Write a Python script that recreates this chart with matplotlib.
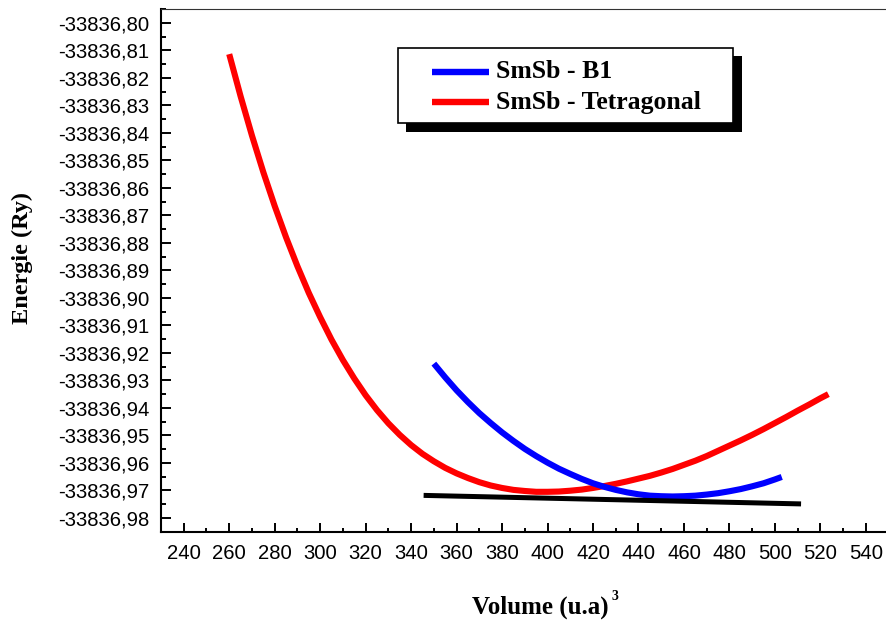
import matplotlib
matplotlib.use("Agg")
import matplotlib.pyplot as plt
from matplotlib.patches import Rectangle
from matplotlib.lines import Line2D
from matplotlib.ticker import MultipleLocator, FuncFormatter

E0 = -33836.0

# E(V) curves, energies in Ry (offset from E0), volumes in (u.a)^3
vol_tetra = [260, 265, 270, 275, 280, 285, 290, 295, 300, 305, 310, 315,
             320, 325, 330, 335, 340, 345, 350, 355, 360, 365, 370, 375,
             380, 385, 390, 395, 400, 405, 410, 415, 420, 425, 430, 435,
             440, 445, 450, 455, 460, 465, 470, 475, 480, 485, 490, 495,
             500, 505, 510, 515, 520, 523.5]
de_tetra = [-0.8114, -0.8267, -0.8410, -0.8543, -0.8666, -0.8780, -0.8885,
            -0.8982, -0.9070, -0.9152, -0.9226, -0.9293, -0.9354, -0.9408,
            -0.9456, -0.9498, -0.9535, -0.9567, -0.9594, -0.9618, -0.9638,
            -0.9655, -0.9670, -0.9682, -0.9691, -0.9698, -0.9702, -0.9705,
            -0.9705, -0.9704, -0.9701, -0.9697, -0.9691, -0.9684, -0.9676,
            -0.9667, -0.9657, -0.9647, -0.9635, -0.9622, -0.9607, -0.9592,
            -0.9575, -0.9556, -0.9537, -0.9518, -0.9498, -0.9477, -0.9455,
            -0.9433, -0.9410, -0.9388, -0.9365, -0.9350]

vol_b1 = [350, 355, 360, 365, 370, 375, 380, 385, 390, 395, 400, 405,
          410, 415, 420, 425, 430, 435, 440, 445, 450, 455, 460, 465,
          470, 475, 480, 485, 490, 495, 500, 503]
de_b1 = [-0.9239, -0.9289, -0.9336, -0.9379, -0.9419, -0.9455, -0.9489,
         -0.9520, -0.9549, -0.9575, -0.9599, -0.9621, -0.9640, -0.9658,
         -0.9674, -0.9687, -0.9698, -0.9707, -0.9714, -0.9719, -0.9721,
         -0.9722, -0.9721, -0.9719, -0.9715, -0.9710, -0.9703, -0.9695,
         -0.9685, -0.9674, -0.9660, -0.9651]

# common tangent
vol_tan = [345.5, 511.5]
de_tan = [-0.9718, -0.9749]

e_tetra = [E0 + d for d in de_tetra]
e_b1 = [E0 + d for d in de_b1]
e_tan = [E0 + d for d in de_tan]

W, H = 887, 622
fig = plt.figure(figsize=(W / 100, H / 100), dpi=100)
fig.patch.set_facecolor("white")


def fx(x):
    return x / W


def fy(y):
    return 1 - y / H


ax = fig.add_axes([161 / W, 1 - 531.7 / H, (888.6 - 161) / W, (531.7 - 9) / H])

ax.plot(vol_tetra, e_tetra, color="#ff0000", lw=4.4, solid_capstyle="butt",
        solid_joinstyle="round", zorder=3)
ax.plot(vol_b1, e_b1, color="#0000ff", lw=4.4, solid_capstyle="butt",
        solid_joinstyle="round", zorder=4)
ax.plot(vol_tan, e_tan, color="black", lw=3.6, solid_capstyle="butt", zorder=5)

ax.set_xlim(230, 550)
ax.set_ylim(-33836.985, -33836.795)

ax.xaxis.set_major_locator(MultipleLocator(20))
ax.xaxis.set_minor_locator(MultipleLocator(10))
ax.yaxis.set_major_locator(MultipleLocator(0.01))
ax.yaxis.set_minor_locator(MultipleLocator(0.005))
ax.yaxis.set_major_formatter(FuncFormatter(lambda v, _: f"{v:.2f}".replace(".", ",")))
ax.xaxis.set_major_formatter(FuncFormatter(lambda v, _: f"{v:.0f}"))

for s in ("left", "bottom"):
    ax.spines[s].set_linewidth(1.5)
ax.spines["top"].set_linewidth(0.8)
ax.spines["top"].set_color("#333333")
ax.spines["right"].set_visible(False)

ax.tick_params(axis="both", which="both", direction="in", width=1.4,
               labelsize=14.6, top=False, right=False)
ax.tick_params(axis="y", which="major", length=7.2, pad=8.5)
ax.tick_params(axis="y", which="minor", length=3.6)
ax.tick_params(axis="x", which="major", length=6.5, pad=9)
ax.tick_params(axis="x", which="minor", length=3.2)
for lab in ax.get_xticklabels() + ax.get_yticklabels():
    lab.set_family("Liberation Sans")

# axis titles
serif_bold = dict(family="Liberation Serif", fontweight="bold")
fig.text(fx(22), fy(258), "Energie (Ry)", rotation=90, ha="center",
         va="center", fontsize=17.5, **serif_bold)
fig.text(fx(609), fy(607), "Volume (u.a)", ha="right", va="center",
         fontsize=18, **serif_bold)
fig.text(fx(611), fy(597), "3", ha="left", va="center", fontsize=10,
         **serif_bold)

# legend box with drop shadow
fig.add_artist(Rectangle((fx(406), fy(132)), fx(742) - fx(406), fy(56) - fy(132),
                         transform=fig.transFigure, facecolor="black",
                         edgecolor="none", zorder=10))
fig.add_artist(Rectangle((fx(398), fy(123)), fx(733) - fx(398), fy(48) - fy(123),
                         transform=fig.transFigure, facecolor="white",
                         edgecolor="black", lw=1.2, zorder=11))
for yy, col, lab in [(72, "#0000ff", "SmSb - B1"), (102, "#ff0000", "SmSb - Tetragonal")]:
    fig.add_artist(Line2D([fx(432), fx(489)], [fy(yy), fy(yy)],
                          transform=fig.transFigure, color=col, lw=4.6,
                          solid_capstyle="butt", zorder=12))
    fig.text(fx(496), fy(yy), lab, ha="left", va="center", fontsize=18.5,
             zorder=12, **serif_bold)

fig.savefig("out.png", dpi=100, facecolor="white")
